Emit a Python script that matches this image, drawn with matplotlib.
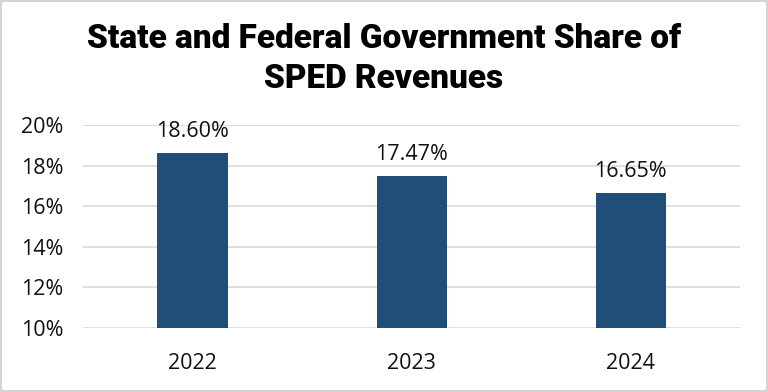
import matplotlib.pyplot as plt
from matplotlib.patches import Rectangle
from matplotlib.ticker import FuncFormatter

years = ['2022', '2023', '2024']
share = [18.60, 17.47, 16.65]
bar_labels = ['18.60%', '17.47%', '16.65%']

fig = plt.figure(figsize=(7.68, 3.92), dpi=100)
ax = fig.add_axes([0.108, 0.163, 0.856, 0.518])

bars = ax.bar(range(len(years)), share, width=0.32, color='#1F4E79', zorder=3)
for b, lab in zip(bars, bar_labels):
    ax.annotate(lab, (b.get_x() + b.get_width() / 2, b.get_height()),
                xytext=(0, 8), textcoords='offset points', ha='center', va='bottom',
                fontsize=15.5, family='Open Sans', color='#111111')

ax.set_ylim(10, 20)
ax.set_yticks([10, 12, 14, 16, 18, 20])
ax.yaxis.set_major_formatter(FuncFormatter(lambda v, p: f'{v:.0f}%'))
ax.set_xlim(-0.5, 2.5)
ax.set_xticks(range(len(years)))
ax.set_xticklabels(years)
ax.grid(axis='y', color='#D9D9D9', linewidth=1.2, zorder=0)
for s in ax.spines.values():
    s.set_visible(False)
ax.tick_params(length=0, labelsize=15.5, colors='#111111')
ax.tick_params(axis='y', pad=14)
ax.tick_params(axis='x', pad=18)
for t in ax.get_xticklabels() + ax.get_yticklabels():
    t.set_family('Open Sans')

fig.text(0.5, 0.85, 'State and Federal Government Share of\nSPED Revenues',
         ha='center', va='center', fontsize=24, fontweight='black', family='Roboto',
         linespacing=1.3, color='black')

fig.patches.append(Rectangle((0, 0), 1, 1, transform=fig.transFigure, fill=False,
                             edgecolor='#D4D4D4', linewidth=3))

fig.savefig('out.png', dpi=100)
